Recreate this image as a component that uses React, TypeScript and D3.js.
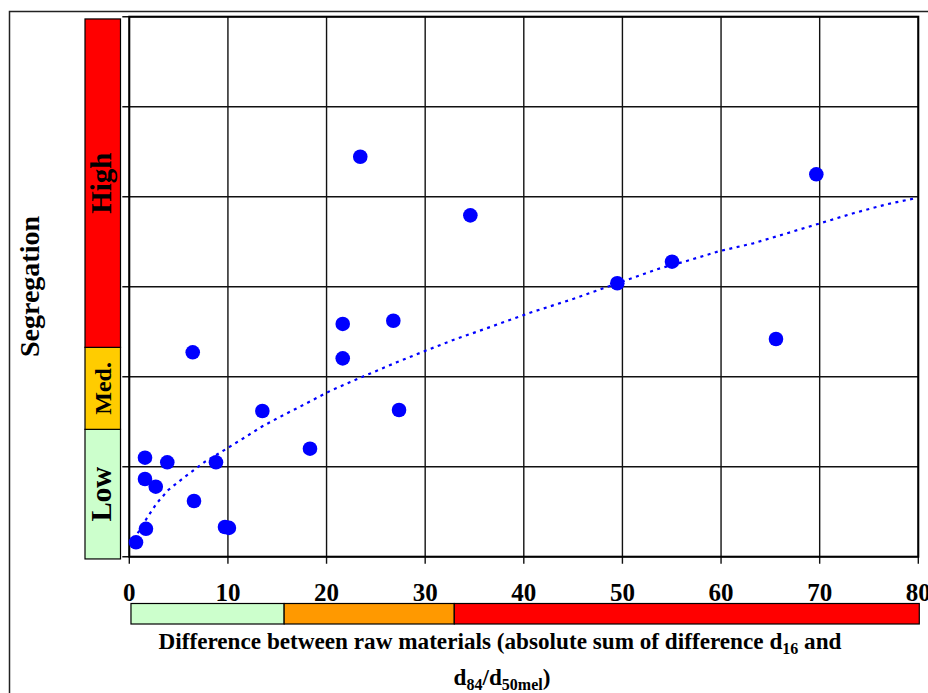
import React from "react";
import * as d3 from "d3";

// ---- data ----
const pointX = [0.68, 1.69, 1.59, 1.59, 2.68, 3.85, 6.43, 6.56, 8.79, 9.7, 10.1, 13.49, 18.32, 21.64, 21.64, 23.42, 26.77, 27.35, 34.58, 49.48, 55.03, 65.57, 69.66];
const pointY = [0.16, 0.31, 0.863, 1.1, 0.778, 1.049, 2.271, 0.619, 1.049, 0.33, 0.32, 1.619, 1.2, 2.586, 2.204, 4.444, 2.622, 1.63, 3.793, 3.038, 3.278, 2.419, 4.249];

const trendX = [0.85, 1.87, 2.78, 3.95, 5.31, 6.66, 7.68, 9.37, 11.73, 13.42, 15.11, 17.31, 20.35, 23.9, 27.11, 29.98, 32.85, 36.24, 40.63, 44.68, 49.48, 53.81, 56.52, 59.89, 63.27, 66.66, 70.03, 73.41, 76.8, 79.67];
const trendY = [0.26, 0.444, 0.593, 0.741, 0.86, 0.971, 1.056, 1.167, 1.327, 1.444, 1.544, 1.667, 1.841, 2.011, 2.16, 2.286, 2.408, 2.538, 2.711, 2.852, 3.038, 3.204, 3.286, 3.397, 3.482, 3.593, 3.704, 3.816, 3.916, 3.982];

const xTicks = [0, 10, 20, 30, 40, 50, 60, 70, 80];
const yTicks = [0, 1, 2, 3, 4, 5, 6];

const segLabels = ["Low", "Med.", "High"];
const segBounds = [-0.025, 1.415, 2.326, 5.975];
const segColors = ["#CCFFCC", "#FFCC00", "#FF0000"];
const segFont = [29, 24, 29];

const diffBounds = [0.17, 15.7, 32.95, 80.1];
const diffColors = ["#CCFFCC", "#FF9900", "#FF0000"];

const xLabelLine1 = "Difference between raw materials (absolute sum of difference d";
const xLabelSub1 = "16";
const xLabelEnd1 = " and";
const yLabel = "Segregation";

export default function App() {
  const x = d3.scaleLinear().domain([0, 80]).range([129.3, 918.3]);
  const y = d3.scaleLinear().domain([0, 6]).range([556.7, 16.7]);
  const line = d3
    .line<number>()
    .x((_, i) => x(trendX[i]))
    .y((_, i) => y(trendY[i]));
  const font = "'Liberation Serif', 'Times New Roman', serif";

  return (
    <svg
      width={928}
      height={693}
      style={{ position: "absolute", left: 0, top: 0, background: "#fff" }}
      fontFamily={font}
    >
      {/* outer frame */}
      <rect x={9.5} y={11.5} width={940} height={700} fill="none" stroke="#222" strokeWidth={1.5} />

      {/* grid */}
      {xTicks.map((t) => (
        <line key={"vx" + t} x1={x(t)} x2={x(t)} y1={y(6)} y2={y(0) + 7} stroke="#111" strokeWidth={1.4} />
      ))}
      {yTicks.map((t) => (
        <line key={"hy" + t} x1={x(0) - 7} x2={x(80)} y1={y(t)} y2={y(t)} stroke="#111" strokeWidth={1.4} />
      ))}
      <rect x={x(0)} y={y(6)} width={x(80) - x(0)} height={y(0) - y(6)} fill="none" stroke="#000" strokeWidth={2} />

      {/* left segregation bar */}
      {segLabels.map((l, i) => {
        const top = y(segBounds[i + 1]);
        const bot = y(segBounds[i]);
        const cy = (top + bot) / 2;
        return (
          <g key={l}>
            <rect x={85} y={top} width={35.5} height={bot - top} fill={segColors[i]} stroke="#000" strokeWidth={1.2} />
            <text
              transform={`translate(111,${cy}) rotate(-90)`}
              textAnchor="middle"
              fontWeight="bold"
              fontSize={segFont[i]}
              fill="#000"
            >
              {l}
            </text>
          </g>
        );
      })}

      {/* trend line */}
      <path d={line(trendX) || ""} fill="none" stroke="#0000FF" strokeWidth={2.2} strokeDasharray="3 4.5" />

      {/* points */}
      {pointX.map((v, i) => (
        <circle key={i} cx={x(v)} cy={y(pointY[i])} r={7.3} fill="#0000FF" />
      ))}

      {/* x tick labels */}
      {xTicks.map((t) => (
        <text key={"xl" + t} x={x(t)} y={601} textAnchor="middle" fontWeight="bold" fontSize={25} fill="#000">
          {t}
        </text>
      ))}

      {/* bottom difference bar */}
      {diffColors.map((c, i) => (
        <rect
          key={"db" + i}
          x={x(diffBounds[i])}
          y={603.5}
          width={x(diffBounds[i + 1]) - x(diffBounds[i])}
          height={20.5}
          fill={c}
          stroke="#000"
          strokeWidth={1.2}
        />
      ))}

      {/* x label */}
      <text x={500} y={649} textAnchor="middle" fontWeight="bold" fontSize={23.2} fill="#000">
        {xLabelLine1}
        <tspan fontSize={16} dy={5}>{xLabelSub1}</tspan>
        <tspan dy={-5}>{xLabelEnd1}</tspan>
      </text>
      <text x={502} y={685} textAnchor="middle" fontWeight="bold" fontSize={23.2} fill="#000">
        d<tspan fontSize={16} dy={5}>84</tspan>
        <tspan dy={-5}>/d</tspan>
        <tspan fontSize={16} dy={5}>50mel</tspan>
        <tspan dy={-5}>)</tspan>
      </text>

      {/* y label */}
      <text transform={`translate(39,286.5) rotate(-90)`} textAnchor="middle" fontWeight="bold" fontSize={28} fill="#000">
        {yLabel}
      </text>
    </svg>
  );
}
